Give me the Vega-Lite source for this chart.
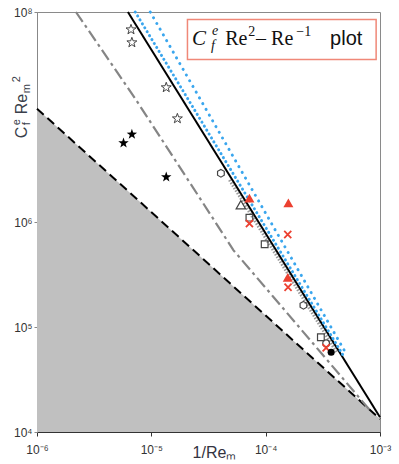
{
  "$schema": "https://vega.github.io/schema/vega-lite/v6.json",
  "width": 343,
  "height": 420,
  "autosize": {"type": "none"},
  "padding": {"left": 37, "top": 12, "right": 19, "bottom": 32},
  "background": "white",
  "config": {
    "view": {"stroke": "#8a8a8a", "strokeWidth": 1},
    "axis": {"grid": false, "labelFont": "Liberation Sans", "titleFont": "Liberation Sans"}
  },
  "encoding": {
    "x": {
      "field": "x", "type": "quantitative",
      "scale": {"type": "log", "domain": [1e-6, 1e-3], "nice": false},
      "axis": {
        "values": [1e-6, 1e-5, 1e-4, 1e-3],
        "labelExpr": "datum.value < 5e-6 ? '10⁻⁶' : datum.value < 5e-5 ? '10⁻⁵' : datum.value < 5e-4 ? '10⁻⁴' : '10⁻³'",
        "labelFontSize": 12, "labelColor": "#333333", "labelPadding": 8, "labelFlush": false,
        "tickSize": 4, "tickColor": "#333333", "domainColor": "#333333",
        "title": "1/Reₘ", "titleFontSize": 16, "titleFontWeight": "normal", "titleColor": "#333340",
        "titleX": 177, "titleY": 25, "titleBaseline": "alphabetic", "titleAlign": "center"
      }
    },
    "y": {
      "field": "y", "type": "quantitative",
      "scale": {"type": "log", "domain": [1e4, 1e8], "nice": false},
      "axis": {
        "values": [1e4, 1e5, 1e6, 1e8],
        "labelExpr": "datum.value < 5e4 ? '10⁴' : datum.value < 5e5 ? '10⁵' : datum.value < 5e6 ? '10⁶' : '10⁸'",
        "labelFontSize": 12, "labelColor": "#333333", "labelPadding": 2,
        "tickSize": 3, "tickColor": "#888888", "domainColor": "#888888",
        "title": null
      }
    }
  },
  "layer": [
    {
      "data": {"values": [{"x": 1e-6, "y": 1.2e7}, {"x": 1e-3, "y": 1.33e4}]},
      "mark": {"type": "area", "color": "#c0c0c0"},
      "encoding": {"y2": {"datum": 10000}}
    },
    {
      "data": {"values": [{"x": 1e-6, "y": 1.2e7}, {"x": 1e-3, "y": 1.33e4}]},
      "mark": {"type": "line", "color": "#000000", "strokeWidth": 2, "strokeDash": [9, 5]},
      "encoding": {}
    },
    {
      "data": {"values": [
        {"x": 2.19e-6, "y": 1e8},
        {"x": 7.23e-6, "y": 1.496e7},
        {"x": 2.673e-5, "y": 1.671e6},
        {"x": 5.236e-5, "y": 5.37e5},
        {"x": 1.169e-4, "y": 1.932e5},
        {"x": 8.18e-4, "y": 1.607e4}
      ]},
      "mark": {"type": "line", "color": "#858585", "strokeWidth": 2.2, "strokeDash": [12, 4, 3, 4]},
      "encoding": {}
    },
    {
      "data": {"values": [{"x": 4.82e-5, "y": 2.51e6}, {"x": 4.23e-4, "y": 5.62e4}]},
      "mark": {"type": "line", "color": "#9a9a9a", "strokeWidth": 3, "strokeDash": [1.5, 1.5]},
      "encoding": {}
    },
    {
      "data": {"values": [{"x": 6.237e-6, "y": 1e8}, {"x": 1e-3, "y": 1.38e4}]},
      "mark": {"type": "line", "color": "#000000", "strokeWidth": 2},
      "encoding": {}
    },
    {
      "data": {"values": [{"x": 7.23e-6, "y": 1e8}, {"x": 4.76e-4, "y": 5.37e4}]},
      "mark": {"type": "line", "color": "#3aa6ee", "strokeWidth": 3, "strokeDash": [0.1, 4.5], "strokeCap": "round"},
      "encoding": {}
    },
    {
      "data": {"values": [{"x": 9.78e-6, "y": 1e8}, {"x": 5.16e-4, "y": 5.37e4}]},
      "mark": {"type": "line", "color": "#3aa6ee", "strokeWidth": 3, "strokeDash": [0.1, 6.5], "strokeCap": "round"},
      "encoding": {}
    },
    {
      "data": {"values": [
        {"x": 6.64e-6, "y": 6.8e7}, {"x": 6.76e-6, "y": 5.12e7},
        {"x": 1.35e-5, "y": 1.91e7}, {"x": 1.69e-5, "y": 9.66e6}
      ]},
      "mark": {"type": "point", "shape": "M0,-1L0.235,-0.324L0.951,-0.309L0.380,0.124L0.588,0.809L0,0.4L-0.588,0.809L-0.380,0.124L-0.951,-0.309L-0.235,-0.324Z", "size": 110, "filled": false, "stroke": "#444444", "strokeWidth": 1, "opacity": 1}
    },
    {
      "data": {"values": [
        {"x": 6.76e-6, "y": 6.84e6}, {"x": 5.71e-6, "y": 5.65e6}, {"x": 1.35e-5, "y": 2.68e6}
      ]},
      "mark": {"type": "point", "shape": "M0,-1L0.235,-0.324L0.951,-0.309L0.380,0.124L0.588,0.809L0,0.4L-0.588,0.809L-0.380,0.124L-0.951,-0.309L-0.235,-0.324Z", "size": 120, "filled": true, "color": "#000000", "opacity": 1}
    },
    {
      "data": {"values": [{"x": 4.06e-5, "y": 2.91e6}, {"x": 2.14e-4, "y": 1.61e5}]},
      "mark": {"type": "point", "shape": "M0,-1L0.866,-0.5L0.866,0.5L0,1L-0.866,0.5L-0.866,-0.5Z", "size": 60, "filled": false, "stroke": "#444444", "strokeWidth": 1.2, "opacity": 1}
    },
    {
      "data": {"values": [{"x": 6.07e-5, "y": 1.46e6}]},
      "mark": {"type": "point", "shape": "triangle-up", "size": 90, "filled": false, "stroke": "#444444", "strokeWidth": 1.2, "opacity": 1}
    },
    {
      "data": {"values": [{"x": 7.21e-5, "y": 1.10e6}, {"x": 9.8e-5, "y": 6.14e5}, {"x": 3.04e-4, "y": 7.98e4}]},
      "mark": {"type": "point", "shape": "square", "size": 45, "filled": false, "stroke": "#444444", "strokeWidth": 1.2, "opacity": 1}
    },
    {
      "data": {"values": [{"x": 3.38e-4, "y": 7.0e4}]},
      "mark": {"type": "point", "shape": "circle", "size": 45, "filled": false, "stroke": "#444444", "strokeWidth": 1.2, "opacity": 1}
    },
    {
      "data": {"values": [{"x": 7.21e-5, "y": 1.69e6}, {"x": 1.58e-4, "y": 1.52e6}, {"x": 1.56e-4, "y": 2.97e5}]},
      "mark": {"type": "point", "shape": "triangle-up", "size": 100, "filled": true, "color": "#ec4030", "opacity": 1}
    },
    {
      "data": {"values": [{"x": 7.21e-5, "y": 9.67e5}, {"x": 1.56e-4, "y": 7.6e5}, {"x": 1.57e-4, "y": 2.39e5}, {"x": 3.38e-4, "y": 6.34e4}]},
      "mark": {"type": "point", "shape": "M-1,-1L1,1M-1,1L1,-1", "size": 50, "filled": false, "stroke": "#ec4030", "strokeWidth": 1.8, "opacity": 1}
    },
    {
      "data": {"values": [{"x": 3.74e-4, "y": 5.74e4}]},
      "mark": {"type": "point", "shape": "circle", "size": 50, "filled": true, "color": "#000000", "opacity": 1}
    },
    {
      "data": {"values": [{"x": 2.07e-5, "y": 8.5e7, "x2": 9.25e-4, "y2": 3.52e7}]},
      "mark": {"type": "rect", "fill": "#ffffff", "stroke": "#f08878", "strokeWidth": 1.5},
      "encoding": {"x2": {"field": "x2"}, "y2": {"field": "y2"}}
    },
    {
      "data": {"values": [{"x": 2.264e-5, "y": 4.82e7, "t": "C"}]},
      "mark": {"type": "text", "align": "left", "baseline": "alphabetic", "font": "Liberation Serif", "fontStyle": "italic", "fontSize": 21, "fill": "#111111"},
      "encoding": {"text": {"field": "t"}}
    },
    {
      "data": {"values": [{"x": 3.388e-5, "y": 4.82e7, "t": "e"}]},
      "mark": {"type": "text", "align": "left", "baseline": "alphabetic", "font": "Liberation Serif", "fontStyle": "italic", "fontSize": 14, "fill": "#111111", "dy": -10},
      "encoding": {"text": {"field": "t"}}
    },
    {
      "data": {"values": [{"x": 3.32e-5, "y": 4.82e7, "t": "f"}]},
      "mark": {"type": "text", "align": "left", "baseline": "alphabetic", "font": "Liberation Serif", "fontStyle": "italic", "fontSize": 14, "fill": "#111111", "dy": 5},
      "encoding": {"text": {"field": "t"}}
    },
    {
      "data": {"values": [{"x": 4.43e-5, "y": 4.82e7, "t": "Re"}, {"x": 8.24e-5, "y": 4.82e7, "t": "– Re"}]},
      "mark": {"type": "text", "align": "left", "baseline": "alphabetic", "font": "Liberation Serif", "fontSize": 20, "fill": "#111111"},
      "encoding": {"text": {"field": "t"}}
    },
    {
      "data": {"values": [{"x": 7.03e-5, "y": 4.82e7, "t": "2"}, {"x": 1.855e-4, "y": 4.82e7, "t": "−1"}]},
      "mark": {"type": "text", "align": "left", "baseline": "alphabetic", "font": "Liberation Serif", "fontSize": 14, "fill": "#111111", "dy": -9},
      "encoding": {"text": {"field": "t"}}
    },
    {
      "data": {"values": [{"x": 3.66e-4, "y": 4.82e7, "t": "plot"}]},
      "mark": {"type": "text", "align": "left", "baseline": "alphabetic", "font": "Liberation Sans", "fontSize": 20, "fill": "#111111"},
      "encoding": {"text": {"field": "t"}}
    },
    {
      "data": {"values": [{"x": 8.15e-7, "y": 6.27e6, "t": "C"}, {"x": 8.15e-7, "y": 1.06e7, "t": "Re"}]},
      "mark": {"type": "text", "angle": 270, "align": "left", "baseline": "alphabetic", "font": "Liberation Sans", "fontSize": 16, "fill": "#3a3f4b"},
      "encoding": {"text": {"field": "t"}}
    },
    {
      "data": {"values": [{"x": 8.15e-7, "y": 8.34e6, "t": "e"}, {"x": 8.15e-7, "y": 2.14e7, "t": "2"}]},
      "mark": {"type": "text", "angle": 270, "align": "left", "baseline": "alphabetic", "font": "Liberation Sans", "fontSize": 11, "fill": "#3a3f4b", "dy": -7},
      "encoding": {"text": {"field": "t"}}
    },
    {
      "data": {"values": [{"x": 8.15e-7, "y": 8.34e6, "t": "f"}, {"x": 8.15e-7, "y": 1.68e7, "t": "m"}]},
      "mark": {"type": "text", "angle": 270, "align": "left", "baseline": "alphabetic", "font": "Liberation Sans", "fontSize": 11, "fill": "#3a3f4b", "dy": 3},
      "encoding": {"text": {"field": "t"}}
    }
  ]
}
